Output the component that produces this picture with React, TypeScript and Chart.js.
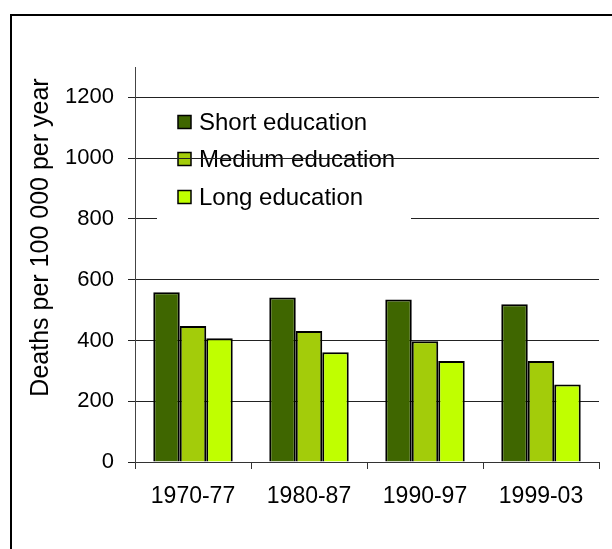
import React, { useEffect, useRef } from 'react';
import { Chart, registerables } from 'chart.js';

Chart.register(...registerables);

const categories = ['1970-77', '1980-87', '1990-97', '1999-03'];
const shortEdu = [559, 541, 535, 519];
const mediumEdu = [448, 431, 397, 332];
const longEdu = [407, 361, 332, 255];
const seriesNames = ['Short education', 'Medium education', 'Long education'];
const seriesColors = ['#3F6600', '#A3CC0A', '#C0FF00'];
const yTickValues = [0, 200, 400, 600, 800, 1000, 1200];
const yAxisMax = 1300;
const yTitle = 'Deaths per 100 000 per year';

const FAMILY = '"Liberation Sans", Arial, Helvetica, sans-serif';
const LEGEND_FONT = `24px ${FAMILY}`;
const TITLE_FONT = `25px ${FAMILY}`;

const decor = {
  id: 'decor',
  beforeDraw(chart: any) {
    const ctx = chart.ctx as CanvasRenderingContext2D;
    ctx.save();
    // outer frame
    ctx.strokeStyle = '#000';
    ctx.lineWidth = 2;
    ctx.strokeRect(11, 15, 900, 900);
    // y title
    ctx.translate(47.5, 237.5);
    ctx.rotate(-Math.PI / 2);
    ctx.font = TITLE_FONT;
    ctx.fillStyle = '#000';
    ctx.textAlign = 'center';
    ctx.textBaseline = 'alphabetic';
    ctx.fillText(yTitle, 0, 0);
    ctx.restore();

    // legend (drawn before grid so gridlines overlay it like the reference)
    ctx.save();
    const rows = [122, 159, 197];
    chart.data.datasets.forEach((ds: any, i: number) => {
      const y = rows[i];
      ctx.fillStyle = ds.backgroundColor;
      ctx.fillRect(178, y - 6.5, 13, 13);
      ctx.strokeStyle = '#000';
      ctx.lineWidth = 1.5;
      ctx.strokeRect(178, y - 6.5, 13, 13);
      ctx.font = LEGEND_FONT;
      ctx.fillStyle = '#000';
      ctx.textAlign = 'left';
      ctx.textBaseline = 'middle';
      ctx.fillText(ds.label, 199, y + 1);
    });
    ctx.restore();
  },
  beforeDatasetsDraw(chart: any) {
    const ctx = chart.ctx as CanvasRenderingContext2D;
    const y = chart.scales.y.getPixelForValue(800);
    ctx.save();
    ctx.fillStyle = '#fff';
    ctx.fillRect(157, y - 2, 254, 4);
    ctx.restore();
  },
};

export default function App() {
  const ref = useRef<HTMLCanvasElement | null>(null);

  useEffect(() => {
    if (!ref.current) return;
    Chart.defaults.font.family = FAMILY;
    Chart.defaults.color = '#000';
    const values = [shortEdu, mediumEdu, longEdu];
    const chart = new Chart(ref.current, {
      type: 'bar',
      data: {
        labels: categories,
        datasets: values.map((v, i) => ({
          label: seriesNames[i],
          data: v,
          backgroundColor: seriesColors[i],
          borderColor: '#000',
          borderWidth: 2,
          categoryPercentage: 0.685,
          barPercentage: 1.0,
        })),
      },
      options: {
        responsive: false,
        animation: false,
        devicePixelRatio: 1,
        layout: { padding: { top: 67, right: 13, bottom: 0, left: 0 } },
        plugins: {
          legend: { display: false },
          tooltip: { enabled: false },
        },
        scales: {
          x: {
            grid: {
              display: true,
              drawOnChartArea: false,
              drawTicks: true,
              tickLength: 7,
              color: '#333',
              offset: true,
            },
            border: { display: true, color: '#333', width: 1 },
            ticks: {
              font: { size: 23, family: FAMILY },
              color: '#000',
              padding: 14,
              maxRotation: 0,
              autoSkip: false,
            },
            afterFit: (s: any) => {
              s.height = 87;
            },
          },
          y: {
            min: 0,
            max: yAxisMax,
            afterBuildTicks: (s: any) => {
              s.ticks = yTickValues.map((v) => ({ value: v }));
            },
            grid: { color: '#222', tickLength: 7, drawTicks: true },
            border: { display: true, color: '#444', width: 1 },
            ticks: {
              font: { size: 22, family: FAMILY },
              color: '#000',
              padding: 14,
              callback: (v: any) => String(v),
            },
            afterFit: (s: any) => {
              s.width = 135;
            },
          },
        },
      },
      plugins: [decor],
    });
    return () => chart.destroy();
  }, []);

  return (
    <div style={{ position: 'absolute', left: 0, top: 0, width: 612, height: 549, background: '#fff' }}>
      <canvas ref={ref} width={612} height={549} style={{ display: 'block' }} />
    </div>
  );
}
